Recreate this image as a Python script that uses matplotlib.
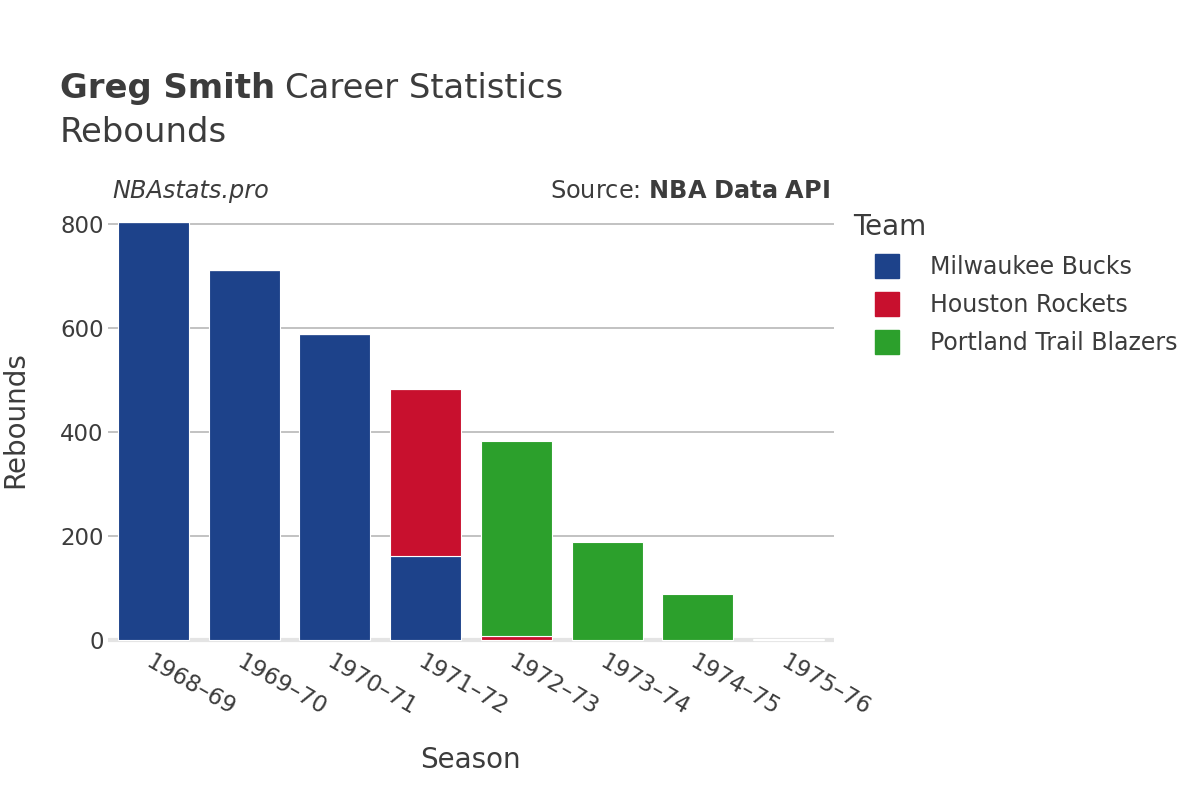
import numpy as np
import matplotlib.pyplot as plt
from matplotlib.lines import Line2D

seasons = ['1968–69', '1969–70', '1970–71', '1971–72', '1972–73', '1973–74', '1974–75', '1975–76']
teams = ['Milwaukee Bucks', 'Houston Rockets', 'Portland Trail Blazers']
bucks = [804, 712, 588, 162, 0, 0, 0, 0]
rockets = [0, 0, 0, 321, 8, 0, 0, 0]
blazers = [0, 0, 0, 0, 375, 188, 88, 2]
colors = ['#1d428a', '#c8102e', '#2ca02c']

text_col = '#3c3c3c'
plt.rcParams['font.family'] = ['DejaVu Sans']

fig = plt.figure(figsize=(12, 8), dpi=100)
ax = fig.add_axes([0.09, 0.1935, 0.605, 0.5362])

x = np.arange(len(seasons))
bottom = np.zeros(len(seasons))
for name, vals, c in zip(teams, [bucks, rockets, blazers], colors):
    vals = np.array(vals, dtype=float)
    ax.bar(x, vals, width=0.78, bottom=bottom, color=c, edgecolor='white',
           linewidth=0.8, label=name, zorder=3)
    bottom += vals

ax.set_xlim(-0.5, len(seasons) - 0.5)
ax.set_ylim(-10, 815)
ax.set_yticks([0, 200, 400, 600, 800])
ax.yaxis.grid(True, color='#b8b8b8', linewidth=1.2, zorder=0)
ax.axhline(0, color='#e4e4e4', linewidth=3, zorder=2)
for s in ax.spines.values():
    s.set_visible(False)
ax.tick_params(axis='both', length=0, labelsize=16.5, labelcolor=text_col)
ax.tick_params(axis='y', pad=3)
ax.tick_params(axis='x', pad=4)
ax.set_xticks(x)
ax.set_xticklabels(seasons, rotation=-30, ha='left', rotation_mode='anchor')

ax.set_xlabel('Season', fontsize=20, color=text_col, va='center')
ax.xaxis.set_label_coords(0.4986, -0.2676)
ax.set_ylabel('Rebounds', fontsize=20, color=text_col, va='center')
ax.yaxis.set_label_coords(-0.128, 0.525)

t1 = fig.text(0.05, 0.889, 'Greg Smith', fontsize=24.4, fontweight='bold', color=text_col, va='center')
fig.canvas.draw()
bb = t1.get_window_extent()
fig.text((bb.x1 + 10) / 1200, 0.889, 'Career Statistics', fontsize=24.4, color=text_col, va='center')
fig.text(0.05, 0.835, 'Rebounds', fontsize=24.4, color=text_col, va='center')

fig.text(0.094, 0.761, 'NBAstats.pro', fontsize=17.3, style='italic', color=text_col, va='center')
fig.text(0.6917, 0.761, 'Source: $\\bf{NBA\\ Data\\ API}$', fontsize=17.3, color=text_col,
         va='center', ha='right')

fig.text(853 / 1200, 1 - 227 / 800, 'Team', fontsize=20, color=text_col, va='center')
handles = [Line2D([], [], marker='s', linestyle='none', markersize=17,
                  markerfacecolor=c, markeredgecolor=c) for c in colors]
leg = fig.legend(handles, teams, loc='upper left', bbox_to_anchor=(873 / 1200, 1 - 255 / 800),
                 frameon=False, fontsize=17, handlelength=1.2, handletextpad=1.2,
                 labelspacing=0.6, borderpad=0, borderaxespad=0)
for t in leg.get_texts():
    t.set_color(text_col)

fig.savefig('out.png', dpi=100)
